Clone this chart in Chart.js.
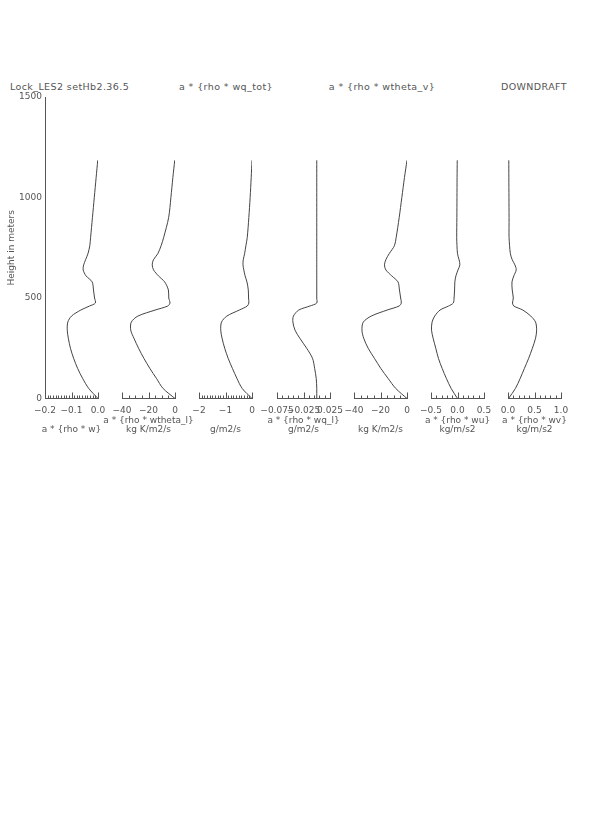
<!DOCTYPE html>
<html>
<head>
<meta charset="utf-8">
<script src="https://cdn.jsdelivr.net/npm/chart.js@4.4.0/dist/chart.umd.min.js"></script>
<style>
  body { margin: 0; background: #fff; width: 595px; height: 833px; position: relative; overflow: hidden; font-family: "DejaVu Sans", sans-serif; }
  canvas { position: absolute; top: 0; }
  .hdr { position: absolute; top: 80px; font-size: 9.5px; line-height: 13px; color: #555; white-space: nowrap; letter-spacing: 0.4px; }
</style>
</head>
<body>
<div class="hdr" style="left:10px">Lock_LES2 setHb2.36.5</div>
<div class="hdr" style="left:226px; transform:translateX(-50%)">a * {rho * wq_tot}</div>
<div class="hdr" style="left:382px; transform:translateX(-50%)">a * {rho * wtheta_v}</div>
<div class="hdr" style="right:28px">DOWNDRAFT</div>
<script>
// heights (m) shared by every profile
var heights = [0, 50, 100, 150, 200, 250, 300, 340, 380, 410, 440, 460, 475, 500, 540, 580, 610, 640, 665, 690, 720, 760, 800, 900, 1000, 1100, 1185];

// downdraft flux profiles
var rhoW       = [0, -0.035, -0.058, -0.077, -0.092, -0.104, -0.112, -0.116, -0.114, -0.100, -0.065, -0.032, -0.010, -0.013, -0.017, -0.022, -0.045, -0.056, -0.054, -0.047, -0.038, -0.031, -0.028, -0.021, -0.014, -0.007, -0.001];
var rhoWthetaL = [0, -9, -14, -19, -23.5, -27.5, -31, -33.4, -33, -28, -15, -5.5, -3.8, -4.7, -5, -7.8, -12.5, -16.2, -17.2, -16.3, -13, -10.5, -8.6, -4.8, -3.1, -1.6, -0.2];
var rhoWqTot   = [0, -0.37, -0.57, -0.74, -0.90, -1.03, -1.13, -1.18, -1.15, -0.95, -0.48, -0.18, -0.12, -0.13, -0.14, -0.19, -0.26, -0.31, -0.34, -0.33, -0.28, -0.23, -0.18, -0.12, -0.07, -0.03, 0];
var rhoWqL     = [0, 0, -0.001, -0.004, -0.008, -0.019, -0.032, -0.041, -0.045, -0.044, -0.034, -0.013, 0, 0, 0, 0, 0, 0, 0, 0, 0, 0, 0, 0, 0, 0, 0];
var rhoWthetaV = [0, -8.5, -14.3, -19.8, -24.6, -29.3, -32.7, -34, -33, -27, -15, -6, -4.3, -4.8, -5.7, -6.8, -11.5, -16, -17, -16, -13.5, -9.5, -8.2, -5.9, -3.9, -1.9, 0];
var rhoWu      = [0, -0.12, -0.21, -0.29, -0.36, -0.41, -0.46, -0.49, -0.48, -0.43, -0.33, -0.17, -0.08, -0.065, -0.055, -0.05, -0.03, 0.01, 0.045, 0.03, 0, -0.01, -0.015, -0.012, -0.01, -0.008, -0.005];
var rhoWv      = [0.01, 0.14, 0.23, 0.31, 0.39, 0.46, 0.52, 0.54, 0.52, 0.43, 0.28, 0.11, 0.085, 0.1, 0.08, 0.075, 0.11, 0.155, 0.13, 0.08, 0.045, 0.03, 0.02, 0.02, 0.018, 0.016, 0.015];

// tick labels
var heightTicks = [0, 500, 1000, 1500];
var ticksW       = [-0.2, -0.1, 0.0];
var ticksThetaL  = [-40, -20, 0];
var ticksQTot    = [-2, -1, 0];
var ticksQL      = [-0.075, -0.025, 0.025];
var ticksThetaV  = [-40, -20, 0];
var ticksU       = [-0.5, 0.0, 0.5];
var ticksV       = [0.0, 0.5, 1.0];

var panels = [
  { values: rhoW,       ticks: ticksW,      minor: 0.01,   dec: 1, title: ['', 'a * {rho * w}'] },
  { values: rhoWthetaL, ticks: ticksThetaL, minor: 5,      dec: 0, title: ['a * {rho * wtheta_l}', 'kg K/m2/s'] },
  { values: rhoWqTot,   ticks: ticksQTot,   minor: 0.1,    dec: 0, title: ['', 'g/m2/s'] },
  { values: rhoWqL,     ticks: ticksQL,     minor: 0.01,   dec: 3, title: ['a * {rho * wq_l}', 'g/m2/s'] },
  { values: rhoWthetaV, ticks: ticksThetaV, minor: 5,      dec: 0, title: ['', 'kg K/m2/s'] },
  { values: rhoWu,      ticks: ticksU,      minor: 0.1,    dec: 1, title: ['a * {rho * wu}', 'kg/m/s2'] },
  { values: rhoWv,      ticks: ticksV,      minor: 0.1,    dec: 1, title: ['a * {rho * wv}', 'kg/m/s2'] }
];

var FONT = 'DejaVu Sans';
var INK = '#555';

function fmt(v, dec) {
  var s = Math.abs(v).toFixed(dec);
  return (v < -1e-12 ? '\u2212' : '') + s;
}

// IDL-style inward ticks plus the two-line axis titles under each panel
var axisDecor = {
  id: 'axisDecor',
  afterDraw: function(chart) {
    var o = chart.options.plugins.axisDecor;
    var sx = chart.scales.x, ctx = chart.ctx;
    var base = chart.chartArea.bottom;
    var lo = o.ticks[0], hi = o.ticks[o.ticks.length - 1];
    var n = Math.round((hi - lo) / o.minor);
    ctx.save();
    ctx.strokeStyle = '#555';
    ctx.lineWidth = 1;
    ctx.beginPath();
    for (var k = 0; k <= n; k++) {
      var v = lo + k * o.minor;
      var major = o.ticks.some(function(t) { return Math.abs(t - v) < o.minor * 0.01; });
      var px = Math.round(sx.getPixelForValue(v)) + 0.5;
      ctx.moveTo(px, base);
      ctx.lineTo(px, base - (major ? 6 : 3));
    }
    ctx.stroke();
    ctx.fillStyle = INK;
    ctx.font = '9px "' + FONT + '"';
    ctx.textAlign = 'center';
    ctx.textBaseline = 'middle';
    var cx = (sx.left + sx.right) / 2;
    o.title.forEach(function(line, i) {
      ctx.fillText(line, cx, base + 22 + 9 * i);
    });
    ctx.restore();
  }
};

function makePanel(p, i) {
  var first = i === 0;
  var plotLeft = 45 + 77.2 * i;
  var plotW = 53;
  var pad = 40;
  var canvas = document.createElement('canvas');
  var left = first ? 0 : plotLeft - pad;
  var width = first ? 45 + plotW + pad : plotW + 2 * pad;
  canvas.width = width;
  canvas.height = 440;
  canvas.style.left = left + 'px';
  document.body.appendChild(canvas);

  var pts = p.values.map(function(v, k) { return { x: v, y: heights[k] }; });

  new Chart(canvas.getContext('2d'), {
    type: 'scatter',
    data: {
      datasets: [{
        data: pts,
        showLine: true,
        borderColor: '#444',
        borderWidth: 1,
        pointRadius: 0,
        tension: 0.3,
        fill: false
      }]
    },
    options: {
      responsive: false,
      animation: false,
      devicePixelRatio: 1,
      layout: { padding: { top: 97, bottom: 0, left: first ? 0 : pad, right: pad } },
      plugins: {
        legend: { display: false },
        tooltip: { enabled: false },
        axisDecor: { ticks: p.ticks, minor: p.minor, title: p.title }
      },
      scales: {
        x: {
          type: 'linear',
          min: p.ticks[0],
          max: p.ticks[p.ticks.length - 1],
          afterBuildTicks: function(s) { s.ticks = p.ticks.map(function(v) { return { value: v }; }); },
          afterFit: function(s) { s.height = 41.5; },
          grid: { display: false, drawTicks: false },
          border: { display: true, color: '#555', width: 1 },
          ticks: {
            autoSkip: false, maxRotation: 0, minRotation: 0, padding: 6.5,
            color: INK, font: { family: FONT, size: 9 },
            callback: function(v) { return fmt(v, p.dec); }
          }
        },
        y: {
          type: 'linear',
          display: first,
          min: 0,
          max: 1500,
          afterBuildTicks: function(s) { s.ticks = heightTicks.map(function(v) { return { value: v }; }); },
          afterFit: function(s) { if (first) s.width = 45; },
          grid: { display: false, drawTicks: false },
          border: { display: true, color: '#555', width: 1 },
          ticks: {
            padding: 3, color: INK, font: { family: FONT, size: 9 },
            callback: function(v) { return String(v); }
          },
          title: {
            display: true, text: 'Height in meters', color: INK,
            font: { family: FONT, size: 9, lineHeight: 1 }, padding: { top: 7, bottom: 0 }
          }
        }
      }
    },
    plugins: [axisDecor]
  });
}

panels.forEach(makePanel);
</script>
</body>
</html>
